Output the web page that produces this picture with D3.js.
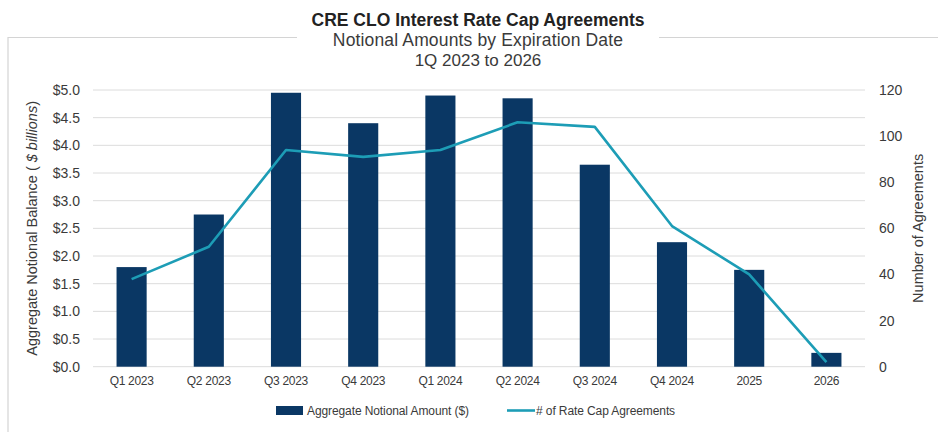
<!DOCTYPE html>
<html>
<head>
<meta charset="utf-8">
<script src="https://cdn.jsdelivr.net/npm/d3@7"></script>
<style>
  html, body { margin: 0; padding: 0; background: #fff; }
  svg { display: block; font-family: "Liberation Sans", Arial, sans-serif; }
</style>
</head>
<body>
<svg id="chart" width="938" height="432"></svg>
<script>
// Expiration buckets
const categories = ["Q1 2023", "Q2 2023", "Q3 2023", "Q4 2023", "Q1 2024",
                    "Q2 2024", "Q3 2024", "Q4 2024", "2025", "2026"];
// Aggregate notional amount, $ billions
const notional = [1.8, 2.75, 4.95, 4.4, 4.9, 4.85, 3.65, 2.25, 1.75, 0.25];
// Number of rate cap agreements
const agreements = [38, 52, 94, 91, 94, 106, 104, 61, 40, 2];
// Axis ticks
const leftTicks = [0, 0.5, 1, 1.5, 2, 2.5, 3, 3.5, 4, 4.5, 5];
const rightTicks = [0, 20, 40, 60, 80, 100, 120];
const titleLines = ["CRE CLO Interest Rate Cap Agreements",
                    "Notional Amounts by Expiration Date",
                    "1Q 2023 to 2026"];
const seriesNames = ["Aggregate Notional Amount ($)", "# of Rate Cap Agreements"];

const BAR = "#0a3764", LINE = "#1d9db6", TXT = "#3a3a3a", GRID = "#dcdcdc";

const svg = d3.select("#chart");
const plot = { left: 93, right: 865, top: 90, bottom: 366.7 };

const x = d3.scaleBand().domain(categories).range([plot.left, plot.right])
  .paddingInner(0.61).paddingOuter(0.305);
const yL = d3.scaleLinear().domain([0, 5]).range([plot.bottom, plot.top]);
const yR = d3.scaleLinear().domain([0, 120]).range([plot.bottom, plot.top]);

// Frame around the chart, broken by the title
const frame = svg.append("g").attr("stroke", "#d4d4d4").attr("stroke-width", 1.2).attr("fill", "none");
frame.append("path").attr("d", "M8,432 V37.5 H297");
frame.append("path").attr("d", "M659,37.5 H938");

// Titles
const title = svg.append("g").attr("text-anchor", "middle").attr("fill", TXT);
title.append("text").attr("x", 478).attr("y", 26).attr("font-size", 17.5)
  .attr("font-weight", "bold").attr("fill", "#222").text(titleLines[0]);
title.append("text").attr("x", 478).attr("y", 46).attr("font-size", 17.5)
  .attr("letter-spacing", 0.15).text(titleLines[1]);
title.append("text").attr("x", 478).attr("y", 66).attr("font-size", 17).text(titleLines[2]);

// Gridlines
svg.append("g").selectAll("line").data(leftTicks).join("line")
  .attr("x1", plot.left).attr("x2", plot.right)
  .attr("y1", d => yL(d)).attr("y2", d => yL(d))
  .attr("stroke", GRID).attr("stroke-width", 1);

// Left axis
const axL = svg.append("g").attr("transform", `translate(${plot.left - 13},0)`)
  .call(d3.axisLeft(yL).tickValues(leftTicks).tickSize(0).tickPadding(0)
    .tickFormat(d => "$" + d3.format(".1f")(d)));
axL.select(".domain").remove();
axL.selectAll("text").attr("font-size", 14).attr("fill", TXT)
  .attr("font-family", "'Liberation Sans', Arial, sans-serif");

// Right axis
const axR = svg.append("g").attr("transform", `translate(${plot.right + 14},0)`)
  .call(d3.axisRight(yR).tickValues(rightTicks).tickSize(0).tickPadding(0));
axR.select(".domain").remove();
axR.selectAll("text").attr("font-size", 14).attr("fill", TXT)
  .attr("font-family", "'Liberation Sans', Arial, sans-serif");

// Bottom axis
const axB = svg.append("g").attr("transform", `translate(0,${plot.bottom + 10})`)
  .call(d3.axisBottom(x).tickSize(0).tickPadding(0));
axB.select(".domain").remove();
axB.selectAll("text").attr("font-size", 12).attr("fill", TXT).attr("dy", "0.71em")
  .attr("letter-spacing", -0.3)
  .attr("font-family", "'Liberation Sans', Arial, sans-serif");

// Axis titles
const midY = (plot.top + plot.bottom) / 2;
const lt = svg.append("text").attr("transform", `translate(37,${midY}) rotate(-90)`)
  .attr("text-anchor", "middle").attr("font-size", 14.5).attr("fill", TXT);
lt.append("tspan").text("Aggregate Notional Balance ( ");
lt.append("tspan").attr("font-style", "italic").text("$ billions");
lt.append("tspan").text(")");
svg.append("text").attr("transform", `translate(923,${midY}) rotate(-90)`)
  .attr("text-anchor", "middle").attr("font-size", 14.5).attr("fill", TXT)
  .text("Number of Agreements");

// Bars
svg.append("g").selectAll("rect").data(categories).join("rect")
  .attr("x", d => x(d)).attr("width", x.bandwidth())
  .attr("y", (d, i) => yL(notional[i]))
  .attr("height", (d, i) => plot.bottom - yL(notional[i]))
  .attr("fill", BAR);

// Line
const line = d3.line().x((d, i) => x(categories[i]) + x.bandwidth() / 2).y(d => yR(d));
svg.append("path").datum(agreements).attr("d", line)
  .attr("fill", "none").attr("stroke", LINE).attr("stroke-width", 2.6)
  .attr("stroke-linejoin", "round");

// Legend
const leg = svg.append("g").attr("font-size", 12).attr("fill", TXT);
leg.append("rect").attr("x", 276).attr("y", 406).attr("width", 27).attr("height", 9).attr("fill", BAR);
leg.append("text").attr("x", 307).attr("y", 414.5).attr("letter-spacing", -0.1).text(seriesNames[0]);
leg.append("line").attr("x1", 507).attr("x2", 535).attr("y1", 410.5).attr("y2", 410.5)
  .attr("stroke", LINE).attr("stroke-width", 2.6);
leg.append("text").attr("x", 536).attr("y", 414.5).attr("letter-spacing", -0.1).text(seriesNames[1]);
</script>
</body>
</html>
